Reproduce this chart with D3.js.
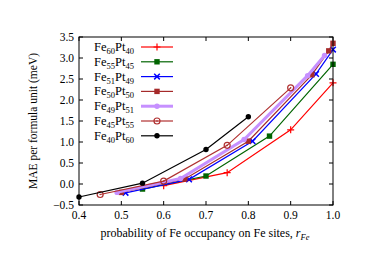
<!DOCTYPE html>
<html>
<head>
<meta charset="utf-8">
<script src="https://cdn.jsdelivr.net/npm/d3@7"></script>
<style>
  body { margin: 0; background: #fff; }
  text { font-family: "Liberation Serif", "DejaVu Serif", serif; fill: #000; }
</style>
</head>
<body>
<svg id="chart" width="386" height="273"></svg>
<script>
// series data
const fe60pt40 = [[0.60, -0.04], [0.75, 0.27], [0.90, 1.29], [1.00, 2.41]];
const fe55pt45 = [[0.55, -0.12], [0.70, 0.19], [0.85, 1.14], [1.00, 2.85]];
const fe51pt49 = [[0.51, -0.21], [0.66, 0.11], [0.81, 1.02], [0.96, 2.62], [1.00, 3.20]];
const fe50pt50 = [[0.50, -0.20], [0.65, 0.12], [0.80, 1.02], [0.95, 2.60], [0.99, 3.17], [1.00, 3.35]];
const fe49pt51 = [[0.49, -0.20], [0.64, 0.13], [0.79, 1.06], [0.94, 2.58], [0.98, 3.06]];
const fe45pt55 = [[0.45, -0.25], [0.60, 0.07], [0.75, 0.92], [0.90, 2.29]];
const fe40pt60 = [[0.40, -0.31], [0.55, 0.02], [0.70, 0.82], [0.80, 1.60]];

const xTicks = [0.4, 0.5, 0.6, 0.7, 0.8, 0.9, 1.0];
const yTicks = [-0.5, 0, 0.5, 1, 1.5, 2, 2.5, 3, 3.5];

const series = [
  { fe: "60", pt: "40", data: fe60pt40, color: "#ff0000", marker: "plus", width: 1.2 },
  { fe: "55", pt: "45", data: fe55pt45, color: "#006400", marker: "square", width: 1.2 },
  { fe: "51", pt: "49", data: fe51pt49, color: "#0000ff", marker: "cross", width: 1.2 },
  { fe: "50", pt: "50", data: fe50pt50, color: "#a52a2a", marker: "square", width: 1.2 },
  { fe: "49", pt: "51", data: fe49pt51, color: "#c690ff", marker: "circle", width: 3 },
  { fe: "45", pt: "55", data: fe45pt55, color: "#b03030", marker: "ocircle", width: 1.2 },
  { fe: "40", pt: "60", data: fe40pt60, color: "#000000", marker: "circle", width: 1.2 }
];

const svg = d3.select("#chart");
const mLeft = 79, mRight = 333, mTop = 37, mBottom = 205;

const x = d3.scaleLinear().domain([0.4, 1.0]).range([mLeft, mRight]);
const y = d3.scaleLinear().domain([-0.5, 3.5]).range([mBottom, mTop]);

// ticks, inward on all four sides
const tickG = svg.append("g").attr("stroke", "#000").attr("stroke-width", 1);
xTicks.forEach(t => {
  tickG.append("line").attr("x1", x(t)).attr("x2", x(t)).attr("y1", mBottom).attr("y2", mBottom - 4);
  tickG.append("line").attr("x1", x(t)).attr("x2", x(t)).attr("y1", mTop).attr("y2", mTop + 4);
});
yTicks.forEach(t => {
  tickG.append("line").attr("x1", mLeft).attr("x2", mLeft + 4).attr("y1", y(t)).attr("y2", y(t));
  tickG.append("line").attr("x1", mRight).attr("x2", mRight - 4).attr("y1", y(t)).attr("y2", y(t));
});

svg.append("g").selectAll("text").data(xTicks).enter().append("text")
  .attr("x", d => x(d)).attr("y", mBottom + 14)
  .attr("text-anchor", "middle").attr("font-size", 11.5)
  .text(d => d3.format(".1f")(d));

svg.append("g").selectAll("text").data(yTicks).enter().append("text")
  .attr("x", mLeft - 5).attr("y", d => y(d) + 4)
  .attr("text-anchor", "end").attr("font-size", 11.5)
  .text(d => d3.format(".1f")(d).replace("-", "\u2212"));

svg.append("text")
  .attr("transform", `translate(37,${(mTop + mBottom) / 2}) rotate(-90)`)
  .attr("text-anchor", "middle").attr("font-size", 11.5)
  .text("MAE per formula unit (meV)");

const xl = svg.append("text")
  .attr("x", 205).attr("y", 237)
  .attr("text-anchor", "middle").attr("font-size", 12);
xl.append("tspan").text("probability of Fe occupancy on Fe sites, ");
xl.append("tspan").attr("font-style", "italic").text("r");
xl.append("tspan").attr("font-style", "italic").attr("font-size", 8.5).attr("dy", 3).text("Fe");

function drawMarker(g, kind, color, cx, cy) {
  if (kind === "plus") {
    g.append("path").attr("d", `M${cx - 3.5},${cy}H${cx + 3.5}M${cx},${cy - 3.5}V${cy + 3.5}`)
      .attr("stroke", color).attr("stroke-width", 1.2);
  } else if (kind === "cross") {
    g.append("path").attr("d", `M${cx - 2.8},${cy - 2.8}L${cx + 2.8},${cy + 2.8}M${cx - 2.8},${cy + 2.8}L${cx + 2.8},${cy - 2.8}`)
      .attr("stroke", color).attr("stroke-width", 1.5);
  } else if (kind === "square") {
    g.append("rect").attr("x", cx - 2.7).attr("y", cy - 2.7).attr("width", 5.4).attr("height", 5.4).attr("fill", color);
  } else if (kind === "circle") {
    g.append("circle").attr("cx", cx).attr("cy", cy).attr("r", 2.7).attr("fill", color);
  } else if (kind === "ocircle") {
    g.append("circle").attr("cx", cx).attr("cy", cy).attr("r", 3)
      .attr("fill", "none").attr("stroke", color).attr("stroke-width", 1.2);
    g.append("circle").attr("cx", cx).attr("cy", cy).attr("r", 0.8).attr("fill", color);
  }
}

const line = d3.line().x(d => x(d[0])).y(d => y(d[1]));
const plot = svg.append("g");
series.forEach(s => {
  const g = plot.append("g");
  g.append("path").datum(s.data).attr("d", line)
    .attr("fill", "none").attr("stroke", s.color).attr("stroke-width", s.width);
  s.data.forEach(d => drawMarker(g, s.marker, s.color, x(d[0]), y(d[1])));
});

// legend
const legend = svg.append("g");
series.forEach((s, i) => {
  const ly = 47 + i * 14.8;
  const t = legend.append("text").attr("x", 134).attr("y", ly + 4)
    .attr("text-anchor", "end").attr("font-size", 12.5);
  t.append("tspan").text("Fe");
  t.append("tspan").attr("font-size", 8.5).attr("dy", 3).text(s.fe);
  t.append("tspan").attr("dy", -3).text("Pt");
  t.append("tspan").attr("font-size", 8.5).attr("dy", 3).text(s.pt);
  legend.append("line").attr("x1", 141).attr("x2", 173).attr("y1", ly).attr("y2", ly)
    .attr("stroke", s.color).attr("stroke-width", s.width);
  drawMarker(legend, s.marker, s.color, 157, ly);
});

// frame
svg.append("rect").attr("x", mLeft).attr("y", mTop)
  .attr("width", mRight - mLeft).attr("height", mBottom - mTop)
  .attr("fill", "none").attr("stroke", "#000").attr("stroke-width", 1);
</script>
</body>
</html>
